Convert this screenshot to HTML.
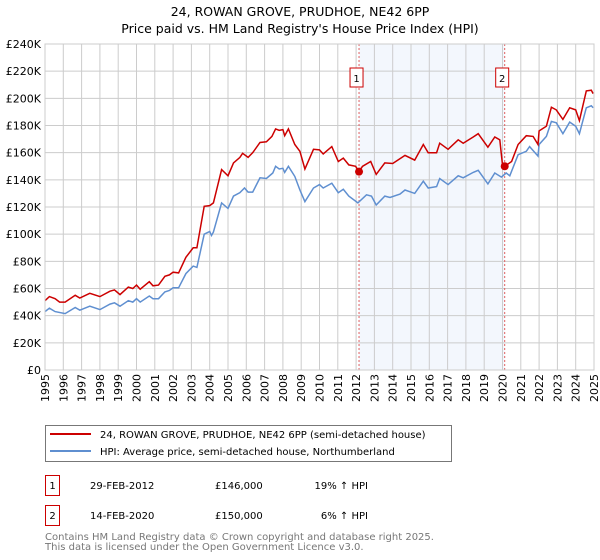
<!DOCTYPE html>
<html><head><meta charset="utf-8"><style>
body{margin:0;background:#fff;font-family:"DejaVu Sans","Liberation Sans",sans-serif;}
svg{display:block}
</style></head><body>
<svg id="c" width="600" height="560" xmlns="http://www.w3.org/2000/svg" font-family="DejaVu Sans, Liberation Sans, sans-serif">
<text x="300" y="16" text-anchor="middle" font-size="12.5">24, ROWAN GROVE, PRUDHOE, NE42 6PP</text>
<text x="300" y="33" text-anchor="middle" font-size="12.5">Price paid vs. HM Land Registry's House Price Index (HPI)</text>
<g id="plot"></g>
<g>
<rect x="45.5" y="425.5" width="406" height="36" fill="#fff" stroke="#777"/>
<line x1="50" y1="434" x2="91" y2="434" stroke="#cc0000" stroke-width="2"/>
<text x="100" y="438" font-size="10">24, ROWAN GROVE, PRUDHOE, NE42 6PP (semi-detached house)</text>
<line x1="50" y1="451" x2="91" y2="451" stroke="#5f8fd0" stroke-width="2"/>
<text x="100" y="455" font-size="10">HPI: Average price, semi-detached house, Northumberland</text>
</g>
<g font-size="10">
<rect x="45.5" y="475.5" width="14" height="20" fill="#fff" stroke="#cc0000"/>
<text x="52.5" y="489" text-anchor="middle">1</text>
<text x="90" y="489">29-FEB-2012</text>
<text x="215" y="489">£146,000</text>
<text x="368" y="489" text-anchor="end">19% ↑ HPI</text>
<rect x="45.5" y="505.5" width="14" height="20" fill="#fff" stroke="#cc0000"/>
<text x="52.5" y="519" text-anchor="middle">2</text>
<text x="90" y="519">14-FEB-2020</text>
<text x="215" y="519">£150,000</text>
<text x="368" y="519" text-anchor="end">6% ↑ HPI</text>
</g>
<text x="45" y="540" font-size="10" fill="#777">Contains HM Land Registry data © Crown copyright and database right 2025.</text>
<text x="45" y="550" font-size="10" fill="#777">This data is licensed under the Open Government Licence v3.0.</text>
</svg>
<script>
const yTicks=[0,20,40,60,80,100,120,140,160,180,200,220,240];
const years=[1995,1996,1997,1998,1999,2000,2001,2002,2003,2004,2005,2006,2007,2008,2009,2010,2011,2012,2013,2014,2015,2016,2017,2018,2019,2020,2021,2022,2023,2024,2025];
const hpiT=[1995.0,1995.24,1995.55,1996.1,1996.65,1996.9,1997.45,1998.0,1998.55,1998.8,1999.1,1999.55,1999.8,2000.0,2000.2,2000.7,2000.9,2001.2,2001.55,2001.8,2002.0,2002.3,2002.7,2003.1,2003.3,2003.7,2004.0,2004.1,2004.2,2004.65,2005.0,2005.3,2005.65,2005.9,2006.1,2006.35,2006.75,2007.1,2007.45,2007.6,2007.8,2008.0,2008.1,2008.3,2008.65,2008.93,2009.2,2009.67,2010.0,2010.2,2010.67,2011.03,2011.3,2011.6,2012.1,2012.57,2012.84,2013.1,2013.57,2013.85,2014.4,2014.67,2015.2,2015.67,2015.94,2016.4,2016.57,2017.03,2017.58,2017.85,2018.4,2018.67,2019.2,2019.58,2019.94,2020.2,2020.4,2020.85,2021.3,2021.48,2021.94,2022.0,2022.4,2022.67,2022.94,2023.3,2023.67,2024.0,2024.2,2024.58,2024.85,2024.95];
const hpiV=[43,45.5,43,41.5,46,44,47,44.5,48.5,49.5,47,51,50,52.5,50,54.5,52.5,52.5,57.5,58.5,60.5,60.5,71,76.5,75.5,100,102,99,101.5,123,119,128,130.5,134,131,131,141.5,141,145,150,148,148.5,145.5,150,142.5,132.5,124,134,136.5,134,137.5,130.5,133,128,123,129,128,121.5,128,127,129.5,132.5,130,139,134,135,141,136.5,143,141.5,145.5,147,137,145,142,145,143,158.5,161,164.5,157.5,166,172,183,182,174,182.5,179.5,174,193,194.5,193];
const ppT=[1995.0,1995.24,1995.55,1995.8,1996.1,1996.65,1996.9,1997.45,1998.0,1998.55,1998.8,1999.1,1999.55,1999.8,2000.0,2000.2,2000.7,2000.9,2001.2,2001.55,2001.8,2002.0,2002.3,2002.7,2003.1,2003.3,2003.7,2004.0,2004.2,2004.65,2005.0,2005.3,2005.65,2005.8,2006.1,2006.35,2006.75,2007.1,2007.4,2007.6,2007.8,2008.0,2008.1,2008.3,2008.65,2008.93,2009.2,2009.67,2010.0,2010.2,2010.67,2011.03,2011.3,2011.6,2011.97,2012.16,2012.35,2012.8,2013.1,2013.57,2014.0,2014.67,2015.2,2015.67,2015.94,2016.4,2016.57,2017.03,2017.58,2017.85,2018.4,2018.67,2019.2,2019.58,2019.85,2020.0,2020.12,2020.5,2020.85,2021.3,2021.67,2021.94,2022.0,2022.4,2022.67,2022.94,2023.3,2023.67,2024.0,2024.2,2024.58,2024.85,2024.95];
const ppV=[51,54,52.5,50,50,55,53,56.5,54,58,59,55.5,61,60,62.5,59.5,65,62,62.5,69,70,72,71.5,83,90,90,120.5,121,123,147.5,143,152.5,156.5,159.5,156.5,160,167.5,168,172,177.5,176.5,177,172.5,177.5,166,161,148,162.5,162,159,164.5,153.5,156,151,150,146,150,153.5,144,152.5,152,158,154.5,166,160,160,167,162.5,169.5,167,171.5,174,164,171.5,169.5,151,150,153.5,166,172.5,172,166,176,179.5,193.5,191.5,184.5,193,191.5,183.5,205.5,206,203.5];
const saleT=[2012.16,2020.12];
const saleV=[146,150];
const saleLabels=["1","2"];
const NS="http://www.w3.org/2000/svg";
const L=45,R=594,T=44,B=370;
const xs=t=>L+(t-1995)/30*(R-L);
const ys=v=>B-v/240*(B-T);
const g=document.getElementById('plot');
function mk(tag,at){const e=document.createElementNS(NS,tag);for(const k in at)e.setAttribute(k,at[k]);g.appendChild(e);return e;}
let e=mk('rect',{x:xs(saleT[0]),y:T,width:xs(saleT[1])-xs(saleT[0]),height:B-T,fill:'#eef3fc',opacity:0.7});


yTicks.forEach(v=>{
 let l=mk('line',{x1:L,x2:R,y1:ys(v),y2:ys(v),stroke:'#cccccc'});
 
 
 let t=mk('text',{x:L-4,y:ys(v)+4,'text-anchor':'end','font-size':'11'});
 t.textContent='£'+(v===0?'0':v+'K');
 
 
});
years.forEach(y=>{
 let l=mk('line',{x1:xs(y),x2:xs(y),y1:T,y2:B,stroke:'#cccccc'});
 
 
 let t=mk('text',{x:0,y:0,'text-anchor':'end','font-size':'11',transform:`translate(${xs(y)+4},374) rotate(-90)`});
 t.textContent=y;
 
 
});
saleT.forEach((s,i)=>{
 let l=mk('line',{x1:xs(s),x2:xs(s),y1:T,y2:B,stroke:'#e06060','stroke-dasharray':'2,2'});
 
 
 let r=mk('rect',{x:xs(s)-9,y:T+24,width:13,height:19,fill:'#fff',stroke:'#cc0000'});
 
 
 let t=mk('text',{x:xs(s)-2.5,y:T+38,'text-anchor':'middle','font-size':'10'});
 t.textContent=saleLabels[i];
 
 
});
let pb=mk('path',{d:hpiT.map((t,i)=>(i?'L':'M')+xs(t).toFixed(1)+','+ys(hpiV[i]).toFixed(1)).join(''),fill:'none',stroke:'#5f8fd0','stroke-width':1.5});


let pr=mk('path',{d:ppT.map((t,i)=>(i?'L':'M')+xs(t).toFixed(1)+','+ys(ppV[i]).toFixed(1)).join(''),fill:'none',stroke:'#cc0000','stroke-width':1.5});


saleT.forEach((s,i)=>{
 let c=mk('circle',{cx:xs(s),cy:ys(saleV[i]),r:4,fill:'#cc0000'});
 
 
});
let ax=mk('rect',{x:L,y:T,width:R-L,height:B-T,fill:'none',stroke:'#cccccc'});


</script>
</body></html>
